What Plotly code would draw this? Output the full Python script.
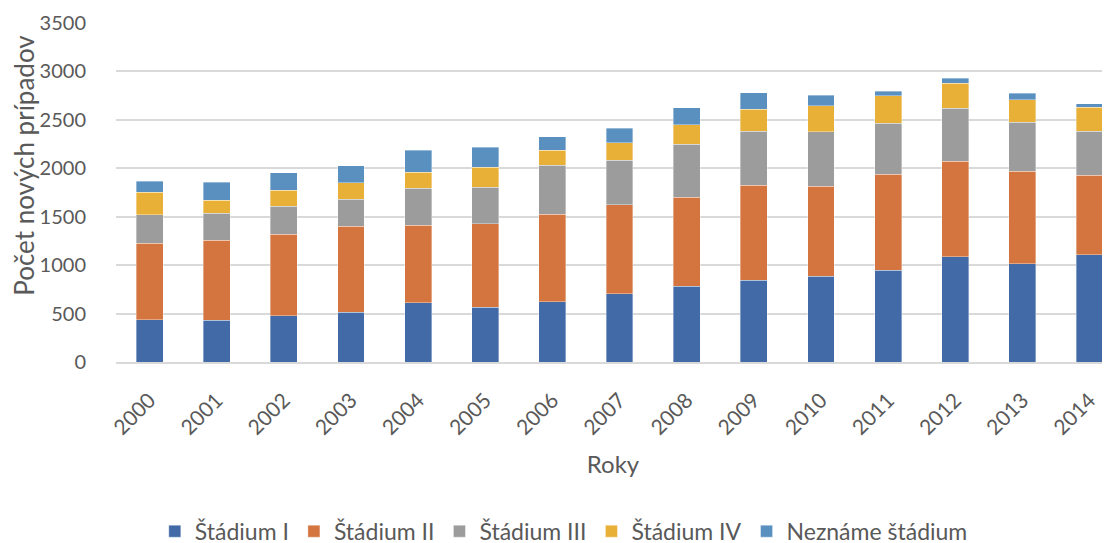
import plotly.graph_objects as go

years = [str(y) for y in range(2000, 2015)]
stadium_1 = [435, 431, 476, 513, 610, 565, 621, 706, 782, 843, 885, 946, 1085, 1012, 1105]
stadium_2 = [790, 825, 842, 887, 804, 863, 907, 915, 921, 980, 932, 994, 989, 959, 825]
stadium_3 = [296, 278, 288, 278, 378, 378, 505, 464, 543, 561, 559, 526, 547, 505, 454]
stadium_4 = [230, 138, 169, 173, 169, 203, 151, 181, 203, 227, 272, 282, 257, 234, 247]
nezname = [117, 186, 179, 175, 223, 210, 144, 148, 178, 171, 107, 48, 52, 65, 37]

series = [
    ("Štádium I", stadium_1, "#416AA6"),
    ("Štádium II", stadium_2, "#D4743F"),
    ("Štádium III", stadium_3, "#9B9C9B"),
    ("Štádium IV", stadium_4, "#E9B037"),
    ("Neznáme štádium", nezname, "#5A90C0"),
]

fig = go.Figure()
for name, vals, color in series:
    fig.add_trace(go.Bar(
        x=years, y=vals, name=name,
        marker=dict(color=color, line=dict(color="rgba(255,255,255,0.6)", width=0.6)),
    ))

font_family = "Lato, 'Open Sans', sans-serif"
# page body adds an 8px offset; the figure is sized so the window shows the same area
W, H = 1102, 560
L, T = 108, 15
plot_h = 339.5
B = H - T - plot_h
y0 = T + plot_h  # plot bottom in figure pixels


def py(pix):
    return (y0 - pix) / plot_h


fig.update_layout(
    barmode="stack",
    bargap=0.6,
    width=W, height=H,
    margin=dict(l=L, r=0, t=T, b=B),
    paper_bgcolor="white", plot_bgcolor="white",
    font=dict(family=font_family, size=20, color="#595959"),
    xaxis=dict(
        title=dict(text="Roky", font=dict(size=24, color="#595959"), standoff=18),
        tickangle=-45, showgrid=False, showline=True, linecolor="#D9D9D9", linewidth=1.5,
        ticks="", tickfont=dict(size=21), ticklabelstandoff=16,
        range=[-0.5, 14.305], automargin=False,
    ),
    yaxis=dict(
        range=[0, 3500], dtick=500, showgrid=True, gridcolor="#D9D9D9", gridwidth=1.5,
        zeroline=False, ticks="", tickfont=dict(size=20), ticklabelstandoff=29,
        automargin=False,
    ),
    legend=dict(
        orientation="h", x=0.4505, xanchor="center", y=py(524), yanchor="middle",
        font=dict(size=23, color="#595959"), traceorder="normal",
    ),
    annotations=[dict(
        text="Počet nových prípadov", textangle=-90, showarrow=False,
        xref="paper", yref="paper", x=(16 - L) / (W - L), xanchor="center",
        y=py(158), yanchor="middle",
        font=dict(size=26, color="#595959"),
    )],
)

fig.write_html("out.html")
